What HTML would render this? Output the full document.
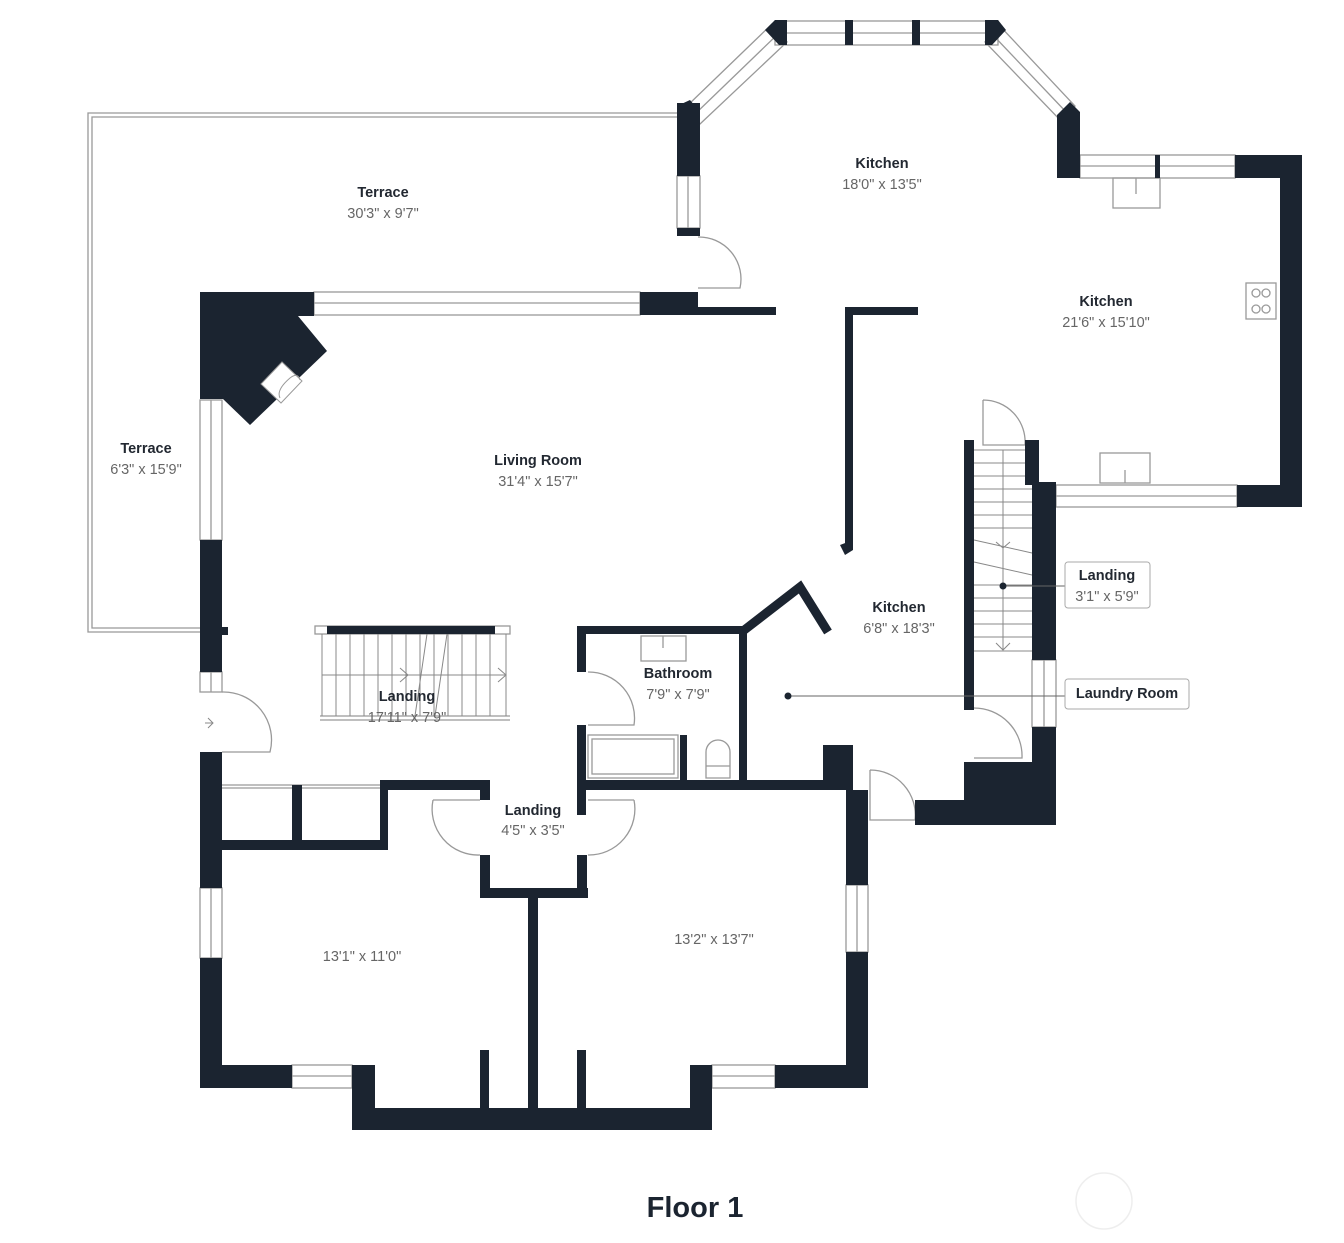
<!DOCTYPE html>
<html><head><meta charset="utf-8"><style>
html,body{margin:0;padding:0;background:#fff;}
svg{display:block;}
.t{font-family:"Liberation Sans",sans-serif;font-weight:bold;font-size:14.5px;fill:#222831;text-anchor:middle;}
.d{font-family:"Liberation Sans",sans-serif;font-size:14.5px;fill:#666;text-anchor:middle;}
</style></head><body>
<svg width="1344" height="1243" viewBox="0 0 1344 1243" xmlns="http://www.w3.org/2000/svg">
<g fill="none" stroke="#999" stroke-width="1.3">
<polyline points="677,113 88,113 88,632 200,632"/>
<polyline points="677,117 92,117 92,628 200,628"/>
<rect x="314" y="292" width="326" height="23"/><line x1="314" y1="303" x2="640" y2="303"/>
<rect x="200" y="400" width="22" height="140"/><line x1="211" y1="400" x2="211" y2="540"/>
<rect x="200" y="672" width="22" height="20"/><line x1="211" y1="672" x2="211" y2="692"/>
<rect x="677" y="176" width="23" height="52"/><line x1="688" y1="176" x2="688" y2="228"/>
<polygon points="687,106 772,24 787,42 700,124"/>
<line x1="694" y1="115" x2="779" y2="33"/>
<rect x="775" y="21" width="223" height="24"/><line x1="775" y1="33" x2="998" y2="33"/>
<polygon points="998,24 1075,106 1062,122 985,42"/>
<line x1="991" y1="33" x2="1068" y2="114"/>
<rect x="1080" y="155" width="155" height="23"/><line x1="1080" y1="166" x2="1235" y2="166"/>
<rect x="1056" y="485" width="181" height="22"/><line x1="1056" y1="496" x2="1237" y2="496"/>
<rect x="1032" y="660" width="24" height="67"/><line x1="1044" y1="660" x2="1044" y2="727"/>
<rect x="200" y="888" width="22" height="70"/><line x1="211" y1="888" x2="211" y2="958"/>
<rect x="292" y="1065" width="60" height="23"/><line x1="292" y1="1076" x2="352" y2="1076"/>
<rect x="712" y="1065" width="63" height="23"/><line x1="712" y1="1076" x2="775" y2="1076"/>
<rect x="846" y="885" width="22" height="67"/><line x1="857" y1="885" x2="857" y2="952"/>
<path d="M698,237 A42,42 0 0 1 740,288 L698,288"/>
<path d="M222,692 A48,48 0 0 1 270,752 L222,752"/>
<path d="M588,672 A46,46 0 0 1 634,725 L588,725"/>
<path d="M433,800 A46,46 0 0 0 480,855"/><line x1="433" y1="800" x2="480" y2="800"/>
<path d="M634,800 A46,46 0 0 1 588,855"/><line x1="588" y1="800" x2="634" y2="800"/>
<path d="M983,400 A42,42 0 0 1 1025,445 L983,445 L983,400"/>
<path d="M974,708 A48,48 0 0 1 1022,758 L974,758"/>
<path d="M870,770 A45,45 0 0 1 915,820 L870,820 L870,770"/>
<rect x="315" y="626" width="195" height="8"/>
<line x1="320" y1="716" x2="510" y2="716"/><line x1="320" y1="720" x2="510" y2="720"/>
<line x1="222" y1="785" x2="385" y2="785"/><line x1="222" y1="788" x2="385" y2="788"/>
<rect x="1113" y="178" width="47" height="30"/><line x1="1136" y1="178" x2="1136" y2="194"/>
<rect x="1100" y="453" width="50" height="30"/><line x1="1125" y1="470" x2="1125" y2="483"/>
<rect x="1246" y="283" width="30" height="36"/>
<circle cx="1256" cy="293" r="4"/><circle cx="1266" cy="293" r="4"/><circle cx="1256" cy="309" r="4"/><circle cx="1266" cy="309" r="4"/>
<rect x="641" y="636" width="45" height="25"/><line x1="663" y1="636" x2="663" y2="648"/>
<rect x="588" y="735" width="90" height="43"/><rect x="592" y="739" width="82" height="35"/>
<path d="M706,778 L706,752 A12,12 0 0 1 730,752 L730,778 Z"/><line x1="706" y1="766" x2="730" y2="766"/>
</g>
<g stroke="#888" stroke-width="1" fill="none">
<line x1="322" y1="634" x2="322" y2="716"/><line x1="336" y1="634" x2="336" y2="716"/><line x1="350" y1="634" x2="350" y2="716"/><line x1="364" y1="634" x2="364" y2="716"/><line x1="378" y1="634" x2="378" y2="716"/><line x1="392" y1="634" x2="392" y2="716"/><line x1="406" y1="634" x2="406" y2="716"/><line x1="420" y1="634" x2="420" y2="716"/><line x1="434" y1="634" x2="434" y2="716"/><line x1="448" y1="634" x2="448" y2="716"/><line x1="462" y1="634" x2="462" y2="716"/><line x1="476" y1="634" x2="476" y2="716"/><line x1="490" y1="634" x2="490" y2="716"/><line x1="506" y1="634" x2="506" y2="716"/>
<line x1="322" y1="675" x2="505" y2="675"/>
<polyline points="400,668 408,675 400,682"/><polyline points="498,668 506,675 498,682"/>
<line x1="415" y1="716" x2="427" y2="634"/><line x1="435" y1="716" x2="447" y2="634"/>
<line x1="974" y1="450" x2="1032" y2="450"/><line x1="974" y1="463" x2="1032" y2="463"/><line x1="974" y1="476" x2="1032" y2="476"/><line x1="974" y1="489" x2="1032" y2="489"/><line x1="974" y1="502" x2="1032" y2="502"/><line x1="974" y1="515" x2="1032" y2="515"/><line x1="974" y1="528" x2="1032" y2="528"/><line x1="974" y1="540" x2="1032" y2="553"/><line x1="974" y1="562" x2="1032" y2="575"/><line x1="974" y1="585" x2="1032" y2="585"/><line x1="974" y1="598" x2="1032" y2="598"/><line x1="974" y1="611" x2="1032" y2="611"/><line x1="974" y1="624" x2="1032" y2="624"/><line x1="974" y1="637" x2="1032" y2="637"/><line x1="974" y1="651" x2="1032" y2="651"/>
<line x1="1003" y1="450" x2="1003" y2="650"/>
<polyline points="996,542 1003,548 1010,542"/><polyline points="996,643 1003,650 1010,643"/>
<line x1="205" y1="723" x2="213" y2="723"/><polyline points="208,718 213,723 208,728"/>
</g>
<g fill="#1b2430">
<polygon points="200,292 314,292 314,316 298,316 327,351 250,425 223,399 200,399"/>
<rect x="640" y="292" width="58" height="23"/><rect x="698" y="307" width="78" height="8"/>
<rect x="677" y="103" width="23" height="73"/><polygon points="677,106 690,100 700,112 700,120 677,120"/>
<rect x="677" y="228" width="23" height="8"/>
<polygon points="765,30 775,20 787,20 787,45 779,45"/>
<rect x="845" y="20" width="8" height="25"/><rect x="912" y="20" width="8" height="25"/>
<polygon points="985,20 998,20 1006,30 992,45 985,45"/>
<polygon points="1057,115 1070,102 1080,112 1080,178 1057,178"/>
<rect x="1155" y="155" width="5" height="23"/>
<rect x="1235" y="155" width="67" height="23"/><rect x="1280" y="155" width="22" height="352"/>
<rect x="1237" y="485" width="65" height="22"/>
<rect x="845" y="307" width="73" height="8"/><rect x="845" y="307" width="8" height="240"/>
<polygon points="840,545 853,540 853,550 845,555"/>
<rect x="964" y="440" width="10" height="270"/>
<rect x="1025" y="440" width="14" height="45"/><rect x="1032" y="482" width="24" height="178"/>
<rect x="1032" y="727" width="24" height="98"/>
<rect x="964" y="762" width="92" height="63"/><rect x="915" y="800" width="141" height="25"/>
<rect x="200" y="540" width="22" height="132"/>
<rect x="222" y="627" width="6" height="8"/>
<rect x="200" y="752" width="22" height="136"/>
<rect x="200" y="958" width="22" height="130"/>
<rect x="200" y="1065" width="92" height="23"/>
<rect x="352" y="1065" width="23" height="65"/><rect x="352" y="1108" width="360" height="22"/>
<rect x="690" y="1065" width="22" height="65"/>
<rect x="775" y="1065" width="93" height="23"/>
<rect x="846" y="790" width="22" height="95"/><rect x="846" y="952" width="22" height="136"/>
<rect x="823" y="745" width="30" height="45"/>
<rect x="327" y="626" width="168" height="8"/>
<rect x="292" y="785" width="10" height="55"/>
<rect x="222" y="840" width="166" height="10"/>
<rect x="380" y="780" width="110" height="10"/><rect x="380" y="780" width="8" height="70"/>
<rect x="480" y="780" width="10" height="20"/>
<rect x="480" y="855" width="10" height="43"/><rect x="480" y="888" width="108" height="10"/><rect x="577" y="855" width="10" height="43"/>
<rect x="528" y="898" width="10" height="210"/>
<rect x="480" y="1050" width="9" height="58"/><rect x="577" y="1050" width="9" height="58"/>
<rect x="577" y="626" width="170" height="8"/><rect x="577" y="626" width="9" height="46"/>
<rect x="577" y="725" width="9" height="90"/>
<rect x="739" y="626" width="8" height="160"/>
<rect x="680" y="735" width="7" height="45"/>
<rect x="577" y="780" width="276" height="10"/>
<polyline points="743,631 800,587 828,632" fill="none" stroke="#1b2430" stroke-width="9"/>
</g>
<polygon points="261,384 282,362 302,381 281,403" fill="#fff" stroke="#999" stroke-width="1"/>
<path d="M280,398 Q276,390 290,378 Q298,372 300,380" fill="none" stroke="#999" stroke-width="1"/>
<g stroke="#666" stroke-width="1" fill="none">
<line x1="788" y1="696" x2="1065" y2="696"/>
<line x1="1003" y1="586" x2="1065" y2="586"/>
</g>
<circle cx="788" cy="696" r="3.5" fill="#1b2430"/>
<circle cx="1003" cy="586" r="3.5" fill="#1b2430"/>
<rect x="1065" y="562" width="85" height="46" rx="3" fill="#fff" stroke="#aaa"/>
<rect x="1065" y="679" width="124" height="30" rx="3" fill="#fff" stroke="#aaa"/>
<text class="t" x="383" y="197">Terrace</text><text class="d" x="383" y="218">30'3" x 9'7"</text>
<text class="t" x="146" y="453">Terrace</text><text class="d" x="146" y="474">6'3" x 15'9"</text>
<text class="t" x="882" y="168">Kitchen</text><text class="d" x="882" y="189">18'0" x 13'5"</text>
<text class="t" x="1106" y="306">Kitchen</text><text class="d" x="1106" y="327">21'6" x 15'10"</text>
<text class="t" x="538" y="465">Living Room</text><text class="d" x="538" y="486">31'4" x 15'7"</text>
<text class="t" x="899" y="612">Kitchen</text><text class="d" x="899" y="633">6'8" x 18'3"</text>
<text class="t" x="1107" y="580">Landing</text><text class="d" x="1107" y="601">3'1" x 5'9"</text>
<text class="t" x="1127" y="698">Laundry Room</text>
<text class="t" x="678" y="678">Bathroom</text><text class="d" x="678" y="699">7'9" x 7'9"</text>
<text class="t" x="407" y="701">Landing</text><text class="d" x="407" y="722">17'11" x 7'9"</text>
<text class="t" x="533" y="815">Landing</text><text class="d" x="533" y="835">4'5" x 3'5"</text>
<text class="d" x="362" y="961">13'1" x 11'0"</text>
<text class="d" x="714" y="944">13'2" x 13'7"</text>
<text x="695" y="1217" style="font-family:'Liberation Sans',sans-serif;font-weight:bold;font-size:29px;fill:#1b2430;text-anchor:middle">Floor 1</text>
<circle cx="1104" cy="1201" r="28" fill="none" stroke="#eee" stroke-width="1.5"/>
</svg>
</body></html>
